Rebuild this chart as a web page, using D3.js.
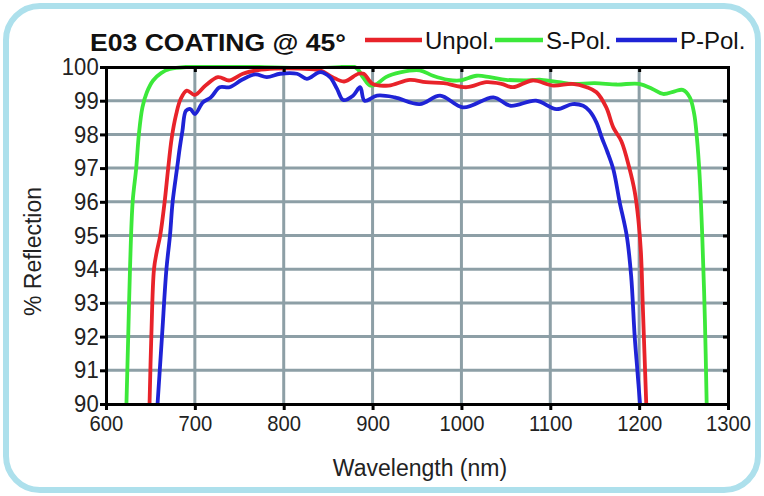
<!DOCTYPE html>
<html>
<head>
<meta charset="utf-8">
<script src="https://cdn.jsdelivr.net/npm/d3@7"></script>
<style>
  body { margin: 0; background: #fff; }
  text { font-family: "Liberation Sans", Arial, sans-serif; }
</style>
</head>
<body>
<svg id="chart"></svg>
<script>
// wavelength (nm) / reflection (%)
const unpolNm = [649, 651, 654, 657, 661, 666, 670, 674, 679, 684, 691, 700, 712, 726, 739, 754, 770, 790, 818, 841, 855, 868, 884, 890, 900, 918, 942, 960, 980, 1006, 1028, 1045, 1058, 1080, 1103, 1125, 1141, 1152, 1163, 1171, 1180, 1189, 1195, 1199, 1202, 1204, 1206, 1208];
const unpolR  = [90, 92, 94, 94.5, 95, 96, 97, 97.9, 98.6, 99.05, 99.3, 99.17, 99.45, 99.7, 99.6, 99.8, 99.9, 99.95, 99.95, 99.9, 99.7, 99.57, 99.8, 99.8, 99.5, 99.45, 99.62, 99.55, 99.52, 99.4, 99.55, 99.5, 99.4, 99.6, 99.45, 99.5, 99.4, 99.25, 98.8, 98.2, 97.8, 97, 96.3, 95.5, 94.5, 93, 91.5, 90];

const sPolNm = [623, 625, 627, 630, 634, 637, 641, 646, 653, 662, 672, 690, 700, 880, 889, 897, 905, 915, 931, 953, 968, 985, 998, 1017, 1032, 1050, 1070, 1090, 1110, 1125, 1150, 1175, 1200, 1215, 1227, 1240, 1249, 1257, 1262, 1265, 1268, 1271, 1274, 1276];
const sPolR  = [90, 92, 94, 96, 97, 98, 98.8, 99.25, 99.6, 99.82, 99.94, 100, 100, 100, 99.7, 99.45, 99.5, 99.7, 99.84, 99.9, 99.74, 99.62, 99.6, 99.74, 99.7, 99.62, 99.6, 99.62, 99.55, 99.5, 99.52, 99.48, 99.5, 99.35, 99.2, 99.28, 99.32, 99.1, 98.6, 97.9, 96.8, 95, 92.5, 90];

const pPolNm = [658, 663, 668, 672, 675, 680, 683, 686, 690, 695, 700, 709, 718, 728, 739, 753, 768, 781, 796, 815, 826, 841, 852, 860, 867, 878, 886, 891, 905, 925, 953, 976, 1002, 1036, 1055, 1084, 1107, 1125, 1137, 1144, 1152, 1158, 1164, 1171, 1178, 1186, 1191, 1195, 1198, 1201];
const pPolR  = [90, 92, 94, 95, 96, 97, 97.6, 98.1, 98.7, 98.75, 98.6, 98.95, 99.1, 99.4, 99.4, 99.62, 99.78, 99.7, 99.8, 99.8, 99.65, 99.85, 99.7, 99.35, 99.02, 99.15, 99.4, 99.0, 99.15, 99.1, 98.9, 99.15, 98.8, 99.1, 98.85, 99.0, 98.75, 98.9, 98.85, 98.7, 98.35, 97.9, 97.5, 96.96, 96, 95, 93.8, 92, 91, 90];

const xTicks = [600, 700, 800, 900, 1000, 1100, 1200, 1300];
const yTicks = [90, 91, 92, 93, 94, 95, 96, 97, 98, 99, 100];

const seriesNames = ["Unpol.", "S-Pol.", "P-Pol."];
const seriesColors = ["#e8232a", "#3ce83a", "#1f23d6"];

const width = 764, height = 496;
const margin = { top: 67, right: 36, bottom: 92, left: 106 };
const plotW = width - margin.left - margin.right;
const plotH = height - margin.top - margin.bottom;

const svg = d3.select("#chart").attr("width", width).attr("height", height);

// outer rounded frame
svg.append("rect")
    .attr("x", 6).attr("y", 6)
    .attr("width", width - 12).attr("height", height - 12)
    .attr("rx", 34).attr("ry", 34)
    .attr("fill", "#fff")
    .attr("stroke", "#ade0ec")
    .attr("stroke-width", 6);

const x = d3.scaleLinear().domain([600, 1300]).range([0, plotW]);
const y = d3.scaleLinear().domain([90, 100]).range([plotH, 0]);

const g = svg.append("g").attr("transform", `translate(${margin.left},${margin.top})`);

// grid
g.selectAll(".vgrid")
    .data(xTicks.slice(1, -1))
    .enter().append("line")
    .attr("x1", d => x(d)).attr("x2", d => x(d))
    .attr("y1", 0).attr("y2", plotH)
    .attr("stroke", "#8d9fa6").attr("stroke-width", 3);

g.selectAll(".hgrid")
    .data(yTicks.slice(1, -1))
    .enter().append("line")
    .attr("x1", 0).attr("x2", plotW)
    .attr("y1", d => y(d)).attr("y2", d => y(d))
    .attr("stroke", "#8d9fa6").attr("stroke-width", 3);

// curves
g.append("clipPath").attr("id", "clip")
    .append("rect").attr("x", 0).attr("y", -2).attr("width", plotW).attr("height", plotH + 2);

const line = d3.line()
    .x(d => x(d[0]))
    .y(d => y(d[1]))
    .curve(d3.curveCatmullRom.alpha(0.5));

const series = [
    d3.zip(unpolNm, unpolR),
    d3.zip(sPolNm, sPolR),
    d3.zip(pPolNm, pPolR)
];
// green sits under red and blue
[1, 0, 2].forEach(i => {
    g.append("path")
        .datum(series[i])
        .attr("clip-path", "url(#clip)")
        .attr("fill", "none")
        .attr("stroke", seriesColors[i])
        .attr("stroke-width", 3.8)
        .attr("stroke-linejoin", "round")
        .attr("d", line);
});

// axes
const fmt = d3.format("d");
const xAxis = g.append("g")
    .attr("transform", `translate(0,${plotH})`)
    .call(d3.axisBottom(x).tickValues(xTicks).tickSize(6).tickPadding(5).tickFormat(fmt));
const yAxis = g.append("g")
    .call(d3.axisLeft(y).tickValues(yTicks).tickSize(6).tickPadding(2).tickFormat(fmt));
const topAxis = g.append("g")
    .call(d3.axisBottom(x).tickValues(xTicks).tickSize(5).tickFormat(""));
const rightAxis = g.append("g")
    .attr("transform", `translate(${plotW},0)`)
    .call(d3.axisLeft(y).tickValues(yTicks).tickSize(5).tickFormat(""));

[xAxis, yAxis, topAxis, rightAxis].forEach(a => {
    a.select(".domain").attr("stroke", "#000").attr("stroke-width", 3);
    a.selectAll(".tick line").attr("stroke", "#000").attr("stroke-width", 3);
    a.selectAll(".tick text").attr("fill", "#222");
});
// narrow the tick digits a little, like the original face
xAxis.selectAll(".tick text").style("font-size", "22px").attr("transform", "scale(0.92,1)");
yAxis.selectAll(".tick text").style("font-size", "24px").attr("transform", "scale(0.92,1)");

// axis titles
svg.append("text")
    .attr("x", margin.left + plotW / 2 + 3)
    .attr("y", 476)
    .attr("text-anchor", "middle")
    .style("font-size", "23px")
    .attr("fill", "#222")
    .text("Wavelength (nm)");

svg.append("text")
    .attr("transform", `translate(41,${margin.top + plotH / 2 + 16}) rotate(-90)`)
    .attr("text-anchor", "middle")
    .style("font-size", "23px")
    .attr("fill", "#222")
    .text("% Reflection");

// title
svg.append("text")
    .attr("x", 90).attr("y", 51)
    .style("font-size", "23px")
    .style("font-weight", "bold")
    .attr("fill", "#111")
    .attr("textLength", 256)
    .attr("lengthAdjust", "spacingAndGlyphs")
    .text("E03 COATING @ 45°");

// legend
const legendX = [365, 495, 616];
const legendLen = [57, 48, 61];
seriesNames.forEach((name, i) => {
    svg.append("line")
        .attr("x1", legendX[i]).attr("x2", legendX[i] + legendLen[i])
        .attr("y1", 40).attr("y2", 40)
        .attr("stroke", seriesColors[i]).attr("stroke-width", 4.5);
    svg.append("text")
        .attr("x", legendX[i] + legendLen[i] + 3).attr("y", 49)
        .style("font-size", "24px")
        .attr("fill", "#111")
        .text(name);
});
</script>
</body>
</html>
